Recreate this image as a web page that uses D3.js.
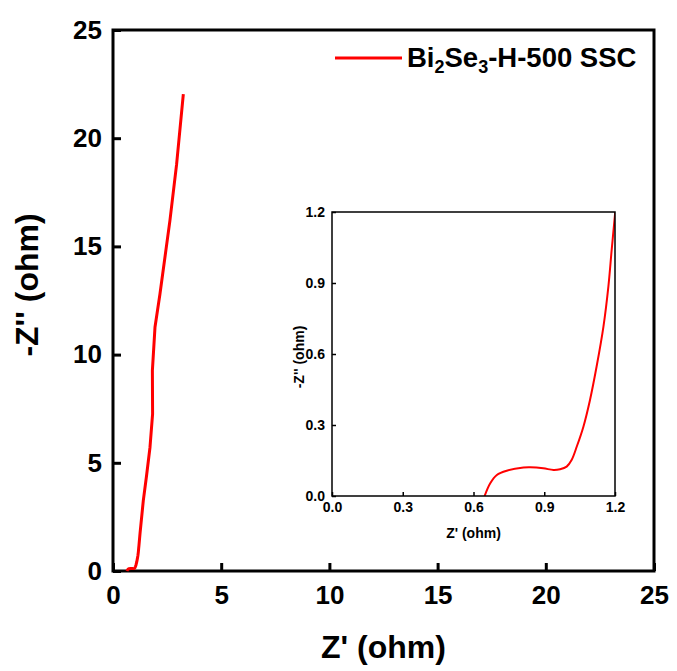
<!DOCTYPE html>
<html>
<head>
<meta charset="utf-8">
<script src="https://cdn.jsdelivr.net/npm/d3@7/dist/d3.min.js"></script>
<style>
  html, body { margin: 0; padding: 0; background: #fff; }
  svg { display: block; font-family: "Liberation Sans", Arial, sans-serif; font-weight: bold; }
</style>
</head>
<body>
<svg id="chart" width="677" height="671"></svg>
<script>
// Nyquist data of the symmetric supercapacitor (Z' and -Z'' in ohm)
const zReal = [0.647, 0.671, 0.699, 0.741, 0.812, 0.84, 0.896, 0.939, 0.967, 0.995, 1.016, 1.038, 1.066, 1.094, 1.122, 1.151, 1.172, 1.186, 1.2,
               1.25, 1.40, 1.55, 1.71, 1.83, 1.82, 1.94, 2.17, 2.63, 2.94, 3.25];
const zImag = [0.0, 0.054, 0.089, 0.107, 0.120, 0.121, 0.117, 0.110, 0.113, 0.124, 0.152, 0.209, 0.293, 0.406, 0.547, 0.716, 0.886, 1.041, 1.189,
               1.75, 3.25, 4.40, 5.72, 7.26, 9.26, 11.26, 12.80, 16.19, 18.80, 22.04];
const mainTicks = [0, 5, 10, 15, 20, 25];
const insetTicks = [0, 0.3, 0.6, 0.9, 1.2];

const points = zReal.map((x, i) => ({ x, y: zImag[i] }));
const svg = d3.select("#chart");
const red = "#ff0000";

// ---------- main plot ----------
const M = { left: 113, right: 654, top: 30, bottom: 571 };
const x = d3.scaleLinear().domain([0, 25]).range([M.left, M.right]);
const y = d3.scaleLinear().domain([0, 25]).range([M.bottom, M.top]);

const xAxis = svg.append("g")
  .attr("transform", `translate(0,${M.bottom})`)
  .call(d3.axisBottom(x).tickValues(mainTicks).tickSizeInner(-8).tickSizeOuter(0).tickPadding(15));
const yAxis = svg.append("g")
  .attr("transform", `translate(${M.left},0)`)
  .call(d3.axisLeft(y).tickValues(mainTicks).tickSizeInner(-8).tickSizeOuter(0).tickPadding(11));
[xAxis, yAxis].forEach(g => {
  g.select(".domain").remove();
  g.selectAll(".tick line").attr("stroke", "#000").attr("stroke-width", 3);
  g.selectAll(".tick text").attr("fill", "#000").style("font-size", "26px").style("font-weight", "bold")
    .style("font-family", "'Liberation Sans', Arial, sans-serif");
});

svg.append("rect")
  .attr("x", M.left).attr("y", M.top)
  .attr("width", M.right - M.left).attr("height", M.bottom - M.top)
  .attr("fill", "none").attr("stroke", "#000").attr("stroke-width", 3);

const line = d3.line().x(d => x(d.x)).y(d => y(d.y));
svg.append("path").datum(points)
  .attr("d", line).attr("fill", "none").attr("stroke", red).attr("stroke-width", 3)
  .attr("stroke-linejoin", "round");

svg.append("text")
  .attr("x", (M.left + M.right) / 2).attr("y", 658)
  .attr("text-anchor", "middle").style("font-size", "32px")
  .text("Z' (ohm)");
svg.append("text")
  .attr("transform", `translate(38,285) rotate(-90)`)
  .attr("text-anchor", "middle").style("font-size", "32px")
  .text("-Z'' (ohm)");

// legend
svg.append("line")
  .attr("x1", 335).attr("x2", 402).attr("y1", 58).attr("y2", 58)
  .attr("stroke", red).attr("stroke-width", 3);
const lt = svg.append("text").attr("x", 407).attr("y", 67).style("font-size", "27.5px");
lt.append("tspan").text("Bi");
lt.append("tspan").attr("dy", 6).style("font-size", "18px").text("2");
lt.append("tspan").attr("dy", -6).text("Se");
lt.append("tspan").attr("dy", 6).style("font-size", "18px").text("3");
lt.append("tspan").attr("dy", -6).text("-H-500 SSC");

// ---------- inset ----------
const I = { left: 332, right: 615, top: 212, bottom: 496 };
const xi = d3.scaleLinear().domain([0, 1.2]).range([I.left, I.right]);
const yi = d3.scaleLinear().domain([0, 1.2]).range([I.bottom, I.top]);

svg.append("rect")
  .attr("x", I.left).attr("y", I.top)
  .attr("width", I.right - I.left).attr("height", I.bottom - I.top)
  .attr("fill", "#fff");

svg.append("clipPath").attr("id", "insetClip")
  .append("rect")
  .attr("x", I.left).attr("y", I.top)
  .attr("width", I.right - I.left).attr("height", I.bottom - I.top);

const lineI = d3.line().x(d => xi(d.x)).y(d => yi(d.y)).curve(d3.curveCatmullRom.alpha(0.5));
svg.append("path").datum(points)
  .attr("clip-path", "url(#insetClip)")
  .attr("d", lineI).attr("fill", "none").attr("stroke", red).attr("stroke-width", 2);

const xiAxis = svg.append("g")
  .attr("transform", `translate(0,${I.bottom})`)
  .call(d3.axisBottom(xi).tickValues(insetTicks).tickFormat(d3.format(".1f")).tickSizeInner(-4).tickSizeOuter(0).tickPadding(6));
const yiAxis = svg.append("g")
  .attr("transform", `translate(${I.left},0)`)
  .call(d3.axisLeft(yi).tickValues(insetTicks).tickFormat(d3.format(".1f")).tickSizeInner(-4).tickSizeOuter(0).tickPadding(7));
[xiAxis, yiAxis].forEach(g => {
  g.select(".domain").remove();
  g.selectAll(".tick line").attr("stroke", "#000").attr("stroke-width", 1.5);
  g.selectAll(".tick text").attr("fill", "#000").style("font-size", "14px").style("font-weight", "bold")
    .style("font-family", "'Liberation Sans', Arial, sans-serif");
});

svg.append("rect")
  .attr("x", I.left).attr("y", I.top)
  .attr("width", I.right - I.left).attr("height", I.bottom - I.top)
  .attr("fill", "none").attr("stroke", "#000").attr("stroke-width", 1.5);

svg.append("text")
  .attr("x", (I.left + I.right) / 2).attr("y", 538)
  .attr("text-anchor", "middle").style("font-size", "14px")
  .text("Z' (ohm)");
svg.append("text")
  .attr("transform", `translate(304,357) rotate(-90)`)
  .attr("text-anchor", "middle").style("font-size", "14px")
  .text("-Z'' (ohm)");
</script>
</body>
</html>
